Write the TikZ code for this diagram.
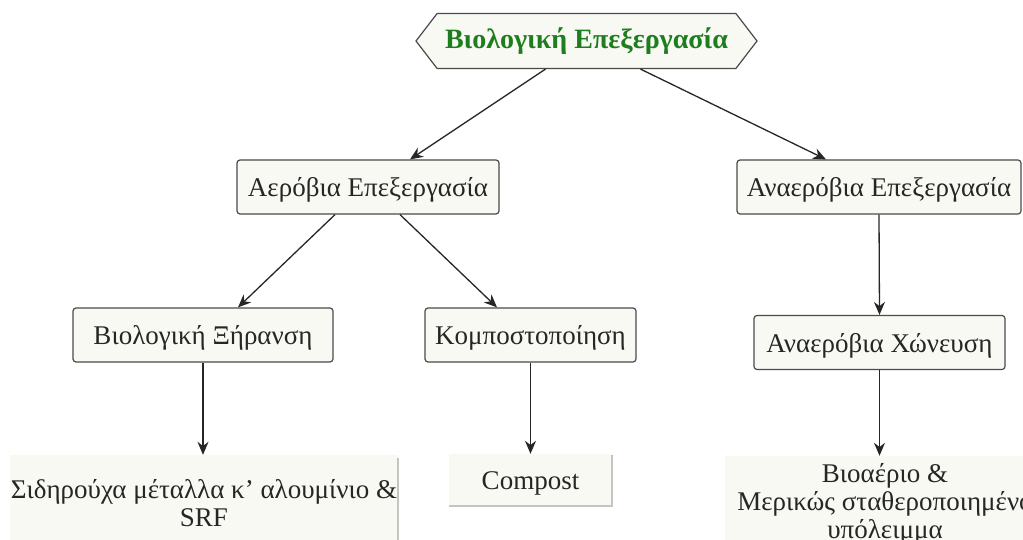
\documentclass[tikz,border=0pt]{standalone}
\usepackage{fontspec}
\setmainfont{Liberation Serif}
\usetikzlibrary{arrows.meta,shapes.symbols}
\definecolor{boxfill}{HTML}{F9F9F4}
\definecolor{boxline}{HTML}{4A4A4A}
\definecolor{txt}{HTML}{262626}
\definecolor{titlegreen}{HTML}{1E7D1E}
\definecolor{edgegray}{HTML}{C4C4C4}
\tikzset{
  procbox/.style={draw=boxline, line width=1.2pt, fill=boxfill, rounded corners=3pt,
    text=txt, font=\fontsize{27}{28}\selectfont, minimum height=54pt, inner sep=0pt,
    text height=22pt, text depth=3pt},
  outbox/.style={fill=boxfill, text=txt, font=\fontsize{27}{28}\selectfont,
    align=center, inner sep=0pt},
  flow/.style={-{Stealth[length=13pt,width=11pt]}, line width=1.3pt, black!85},
  outedge/.style={draw=edgegray, line width=1.5pt}
}
\begin{document}
\begin{tikzpicture}[x=1pt,y=-1pt]
\useasboundingbox (0,0) rectangle (1023,540);
% title
\node[signal, signal to=west and east, signal pointer angle=105,
  draw=boxline, line width=1.2pt, fill=boxfill, minimum width=341pt, minimum height=55pt,
  inner sep=0pt, text=titlegreen, font=\bfseries\fontsize{28}{30}\selectfont]
  (hex) at (586.5,41) {Βιολογική Επεξεργασία};
% process stages
\node[procbox, minimum width=262pt] (aer) at (368,187) {Αερόβια Επεξεργασία};
\node[procbox, minimum width=284pt] (ana) at (879,187) {Αναερόβια Επεξεργασία};
\node[procbox, minimum width=260pt] (dry) at (203,335) {Βιολογική Ξήρανση};
\node[procbox, minimum width=211pt] (comp) at (530.5,335) {Κομποστοποίηση};
\node[procbox, minimum width=251pt] (dig) at (879.5,342.5) {Αναερόβια Χώνευση};
% products
\node[outbox, minimum width=388pt, minimum height=96pt] (met) at (204,503)
  {Σιδηρούχα μέταλλα κ' αλουμίνιο \&\\ SRF};
\node[outbox, minimum width=163pt, minimum height=52pt, text height=22pt, text depth=3pt]
  (cst) at (530.5,480) {Compost};
\node[outbox, minimum width=320pt, minimum height=96pt] (gas) at (885,504)
  {Βιοαέριο \&\\ Μερικώς σταθεροποιημένο\\ υπόλειμμα};
\draw[outedge] ([yshift=-3pt]met.north east) -- (met.south east);
\draw[outedge] ([yshift=-1pt]cst.north east) -- (cst.south east) -- (cst.south west);
% connectors
\draw[flow] ([xshift=-41pt]hex.south) -- ([xshift=42pt]aer.north);
\draw[flow] ([xshift=54pt]hex.south) -- ([xshift=-53pt]ana.north);
\draw[flow] ([xshift=-33pt]aer.south) -- ([xshift=35pt]dry.north);
\draw[flow] ([xshift=32pt]aer.south) -- ([xshift=-33.5pt]comp.north);
\draw[flow] (ana.south) -- (dig.north);
\draw[flow] (dry.south) -- (dry.south |- met.north);
\draw[flow] (comp.south) -- (cst.north);
\draw[flow] (dig.south) -- (dig.south |- gas.north);
\end{tikzpicture}
\end{document}
